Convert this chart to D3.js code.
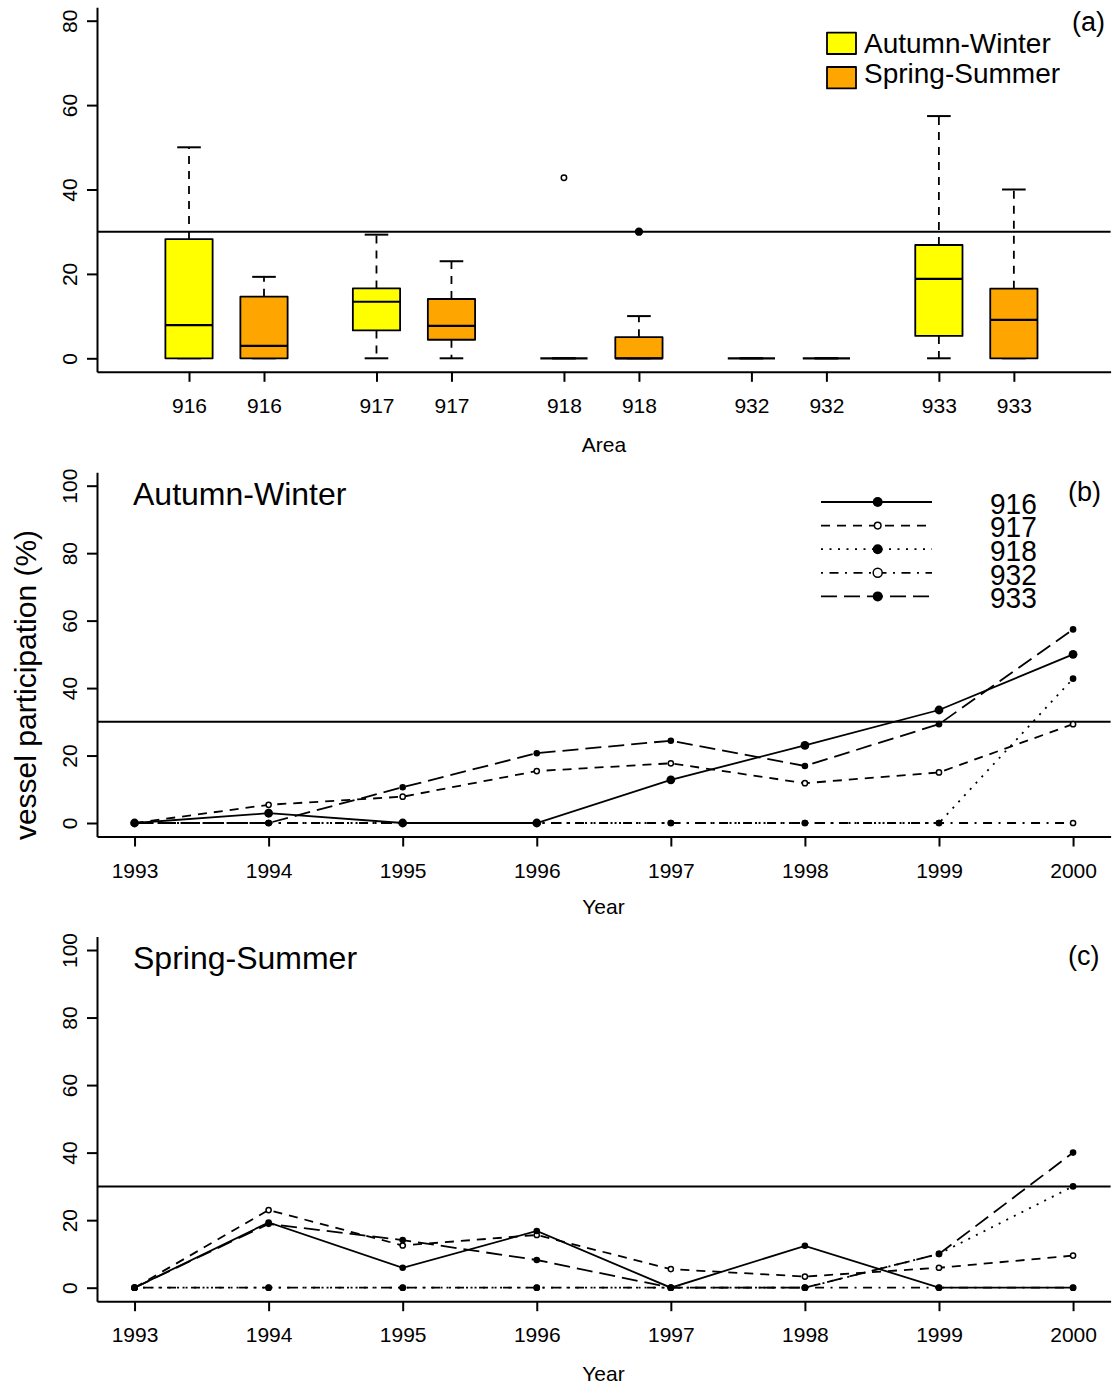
<!DOCTYPE html>
<html>
<head>
<meta charset="utf-8">
<script src="https://cdn.jsdelivr.net/npm/d3@7"></script>
<style>
  html, body { margin: 0; padding: 0; background: #fff; }
  svg { display: block; }
  text { font-family: "Liberation Sans", Arial, sans-serif; fill: #000; }
</style>
</head>
<body>
<script>
// ---------------- DATA ----------------
const years = [1993, 1994, 1995, 1996, 1997, 1998, 1999, 2000];
const areas = ["916", "917", "918", "932", "933"];
const seasons = ["Autumn-Winter", "Spring-Summer"];

// Autumn-Winter vessel participation (%) by area
const aw916 = [0, 2.9, 0, 0, 12.8, 23.0, 33.5, 50.0];
const aw917 = [0, 5.4, 7.8, 15.4, 17.7, 11.8, 15.0, 29.3];
const aw918 = [0, 0, 0, 0, 0, 0, 0, 42.8];
const aw932 = [0, 0, 0, 0, 0, 0, 0, 0];
const aw933 = [0, 0, 10.6, 20.7, 24.4, 16.9, 29.3, 57.4];

// Spring-Summer vessel participation (%) by area
const ss916 = [0, 19.3, 5.9, 16.8, 0, 12.4, 0, 0];
const ss917 = [0, 23.0, 12.5, 15.6, 5.5, 3.3, 5.9, 9.5];
const ss918 = [0, 0, 0, 0, 0, 0, 10.0, 30.0];
const ss932 = [0, 0, 0, 0, 0, 0, 0, 0];
const ss933 = [0, 18.9, 14.1, 8.2, 0, 0, 10.0, 40.0];

const threshold = 30;
const boxYTicks = [0, 20, 40, 60, 80];
const lineYTicks = [0, 20, 40, 60, 80, 100];

const awSeries = [aw916, aw917, aw918, aw932, aw933];
const ssSeries = [ss916, ss917, ss918, ss932, ss933];

// ---------------- STYLE ----------------
const W = 1115, H = 1387;
const FONT = '"Liberation Sans", Arial, sans-serif';
const seasonFill = ["#FFFF00", "#FFA500"];
const lineStyle = [
  { dash: null,            filled: true  },  // 916
  { dash: "9,7",           filled: false },  // 917
  { dash: "2,6.5",         filled: true  },  // 918
  { dash: "2,6.5,9,6.5",   filled: false },  // 932
  { dash: "16,7",          filled: true  }   // 933
];

const svg = d3.select("body").append("svg")
  .attr("width", W).attr("height", H)
  .attr("viewBox", `0 0 ${W} ${H}`);
svg.append("rect").attr("width", W).attr("height", H).attr("fill", "#fff");

function styleAxis(g) {
  g.select(".domain").attr("stroke", "#000").attr("stroke-width", 2);
  g.selectAll(".tick line").attr("stroke", "#000").attr("stroke-width", 2);
  g.selectAll(".tick text").attr("font-family", FONT).attr("font-size", 21).attr("fill", "#000");
}

function leftAxis(y, ticks, xPos) {
  const g = svg.append("g").attr("transform", `translate(${xPos},0)`)
    .call(d3.axisLeft(y).tickValues(ticks).tickSize(10).tickSizeOuter(0).tickFormat(d3.format("d")));
  styleAxis(g);
  g.selectAll(".tick text")
    .attr("x", null).attr("dy", null)
    .attr("text-anchor", "middle")
    .attr("transform", "translate(-20.5,0) rotate(-90)");
  return g;
}

function bottomAxis(x, ticks, fmt, yPos) {
  const g = svg.append("g").attr("transform", `translate(0,${yPos})`)
    .call(d3.axisBottom(x).tickValues(ticks).tickSize(10).tickSizeOuter(0).tickFormat(fmt));
  styleAxis(g);
  g.selectAll(".tick text").attr("y", 41).attr("dy", null);
  return g;
}

// ---------------- PANEL (a): boxplots ----------------
function fivenum(arr) {
  const x = arr.slice().sort((a, b) => a - b);
  const n = x.length;
  const n4 = Math.floor((n + 3) / 2) / 2;
  const d = [1, n4, (n + 1) / 2, n + 1 - n4, n];
  return d.map(v => 0.5 * (x[Math.floor(v) - 1] + x[Math.ceil(v) - 1]));
}
function boxStats(arr) {
  const f = fivenum(arr);
  const iqr = f[3] - f[1];
  const lo = f[1] - 1.5 * iqr, hi = f[3] + 1.5 * iqr;
  const inside = arr.filter(v => v >= lo && v <= hi);
  return {
    q1: f[1], med: f[2], q3: f[3],
    wlo: d3.min(inside), whi: d3.max(inside),
    out: arr.filter(v => v < lo || v > hi)
  };
}

const xA = d3.scaleLinear().domain([-0.227, 13.29]).range([97, 1110.6]);
const yA = d3.scaleLinear().domain([-3.2, 83.2]).range([371.8, 7.2]);

const boxes = [];
areas.forEach((a, i) => {
  [awSeries[i], ssSeries[i]].forEach((vals, s) => {
    boxes.push({ area: a, season: s, pos: 1 + i * 2.5 + s, st: boxStats(vals) });
  });
});

const gA = svg.append("g");
const halfW = (xA(1) - xA(0)) * 0.315;
const halfStaple = halfW / 2;

boxes.forEach(b => {
  const cx = xA(b.pos), st = b.st;
  // whiskers
  if (st.whi > st.q3) {
    gA.append("line").attr("x1", cx).attr("x2", cx).attr("y1", yA(st.q3)).attr("y2", yA(st.whi))
      .attr("stroke", "#000").attr("stroke-width", 1.8).attr("stroke-dasharray", "8,7");
  }
  if (st.wlo < st.q1) {
    gA.append("line").attr("x1", cx).attr("x2", cx).attr("y1", yA(st.q1)).attr("y2", yA(st.wlo))
      .attr("stroke", "#000").attr("stroke-width", 1.8).attr("stroke-dasharray", "8,7");
  }
  // staples
  [st.whi, st.wlo].forEach(v => {
    gA.append("line").attr("x1", cx - halfStaple).attr("x2", cx + halfStaple)
      .attr("y1", yA(v)).attr("y2", yA(v)).attr("stroke", "#000").attr("stroke-width", 2);
  });
  // box
  gA.append("rect").attr("x", cx - halfW).attr("width", 2 * halfW)
    .attr("y", yA(st.q3)).attr("height", Math.max(0, yA(st.q1) - yA(st.q3)))
    .attr("fill", seasonFill[b.season]).attr("stroke", "#000").attr("stroke-width", 1.8)
    .attr("stroke-linejoin", "round");
  // median
  gA.append("line").attr("x1", cx - halfW).attr("x2", cx + halfW)
    .attr("y1", yA(st.med)).attr("y2", yA(st.med)).attr("stroke", "#000").attr("stroke-width", 2.2);
});

// threshold line
svg.append("line").attr("x1", 97).attr("x2", 1110.6).attr("y1", yA(threshold)).attr("y2", yA(threshold))
  .attr("stroke", "#000").attr("stroke-width", 2);

// outliers (drawn after the threshold line)
boxes.forEach(b => {
  b.st.out.forEach(v => {
    const onLine = Math.abs(v - threshold) < 0.5;
    svg.append("circle").attr("cx", xA(b.pos)).attr("cy", yA(v)).attr("r", onLine ? 3.4 : 2.7)
      .attr("fill", onLine ? "#000" : "none").attr("stroke", "#000").attr("stroke-width", 1.5);
  });
});

leftAxis(yA, boxYTicks, 97);
bottomAxis(xA, boxes.map(b => b.pos), (d, i) => boxes[i].area, 371.8);

svg.append("text").attr("x", 604).attr("y", 452).attr("text-anchor", "middle")
  .attr("font-size", 21).text("Area");
svg.append("text").attr("x", 1072).attr("y", 31).attr("font-size", 27).text("(a)");

// legend (a)
seasons.forEach((s, i) => {
  const cy = [43.3, 77.7][i];
  svg.append("rect").attr("x", 827).attr("y", cy - 10.7).attr("width", 29).attr("height", 21.4)
    .attr("fill", seasonFill[i]).attr("stroke", "#000").attr("stroke-width", 1.8)
    .attr("stroke-linejoin", "round");
  svg.append("text").attr("x", 864).attr("y", [52.7, 83.3][i]).attr("font-size", 28).text(s);
});

// ---------------- PANELS (b) and (c): lines ----------------
const xL = d3.scaleLinear().domain([1992.72, 2000.28]).range([97, 1110.6]);

function linePanel(series, yRange, title, tag, bigFirst, labelY) {
  const y = d3.scaleLinear().domain([-4, 104]).range(yRange);
  const g = svg.append("g");
  // threshold
  g.append("line").attr("x1", 97).attr("x2", 1110.6).attr("y1", y(threshold)).attr("y2", y(threshold))
    .attr("stroke", "#000").attr("stroke-width", 2);
  const line = d3.line().x((d, i) => xL(years[i])).y(d => y(d));
  // draw in reverse so 916 ends up on top
  for (let k = series.length - 1; k >= 0; k--) {
    const stl = lineStyle[k];
    g.append("path").datum(series[k]).attr("d", line)
      .attr("fill", "none").attr("stroke", "#000").attr("stroke-width", 1.8)
      .attr("stroke-dasharray", stl.dash).attr("stroke-linecap", "butt");
    const r = (k === 0 && bigFirst) ? 4.4 : (stl.filled ? 3.3 : 2.6);
    g.selectAll(null).data(series[k]).enter().append("circle")
      .attr("cx", (d, i) => xL(years[i])).attr("cy", d => y(d)).attr("r", r)
      .attr("fill", stl.filled ? "#000" : "#fff").attr("stroke", "#000")
      .attr("stroke-width", stl.filled ? 0 : 1.5);
  }
  leftAxis(y, lineYTicks, 97);
  const axY = yRange[0];
  bottomAxis(xL, years, d3.format("d"), axY);
  svg.append("text").attr("x", 133).attr("y", y(104) + 32.5).attr("font-size", 32).text(title);
  svg.append("text").attr("x", 1068).attr("y", y(104) + 28.5).attr("font-size", 27).text(tag);
  svg.append("text").attr("x", 603.5).attr("y", labelY).attr("text-anchor", "middle")
    .attr("font-size", 21).text("Year");
  return y;
}

linePanel(awSeries, [836.5, 472.2], seasons[0], "(b)", true, 914);
linePanel(ssSeries, [1301.2, 936.5], seasons[1], "(c)", false, 1381);

// y label
svg.append("text").attr("transform", "translate(36,685) rotate(-90)")
  .attr("text-anchor", "middle").attr("font-size", 30).text("vessel participation (%)");

// legend (b) — labels are tightly stacked as in the original
const legRows = [502, 525.6, 549.2, 572.8, 596.4];
const legR = [5, 3.3, 5, 4.5, 5];
areas.forEach((a, k) => {
  const cy = legRows[k], stl = lineStyle[k];
  svg.append("line").attr("x1", 821).attr("x2", 932).attr("y1", cy).attr("y2", cy)
    .attr("stroke", "#000").attr("stroke-width", 1.8).attr("stroke-dasharray", stl.dash);
  svg.append("circle").attr("cx", 877.7).attr("cy", cy).attr("r", legR[k])
    .attr("fill", stl.filled ? "#000" : "#fff").attr("stroke", "#000")
    .attr("stroke-width", stl.filled ? 0 : 1.5);
  svg.append("text").attr("x", 990).attr("y", cy + 10.5).attr("font-size", 26)
    .attr("transform", `translate(990,${cy}) scale(1.08,1.12) translate(-990,${-cy})`)
    .text(a);
});
</script>
</body>
</html>
